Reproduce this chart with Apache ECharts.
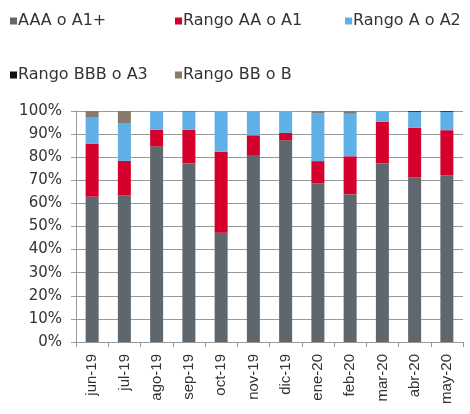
<!DOCTYPE html>
<html>
<head>
<meta charset="utf-8">
<script src="https://cdn.jsdelivr.net/npm/echarts@6/dist/echarts.min.js"></script>
<style>
  html, body { margin: 0; padding: 0; background: #fff; }
  #chart { width: 470px; height: 414px; }
</style>
</head>
<body>
<div id="chart"></div>
<script>
const categories = ['jun-19', 'jul-19', 'ago-19', 'sep-19', 'oct-19', 'nov-19', 'dic-19', 'ene-20', 'feb-20', 'mar-20', 'abr-20', 'may-20'];
const seriesNames = ['AAA o A1+', 'Rango AA o A1', 'Rango A o A2', 'Rango BBB o A3', 'Rango BB o B'];
const aaa = [62.9, 63.5, 84.7, 77.3, 47.3, 80.9, 87.3, 68.6, 64.0, 77.3, 71.2, 72.2];
const aa = [23.0, 14.9, 7.2, 14.6, 35.0, 8.6, 3.2, 9.7, 16.4, 18.0, 21.5, 19.5];
const a = [11.5, 16.4, 8.1, 7.7, 17.7, 10.5, 9.5, 20.8, 18.4, 4.7, 7.0, 8.0];
const bbb = [0, 0, 0, 0, 0, 0, 0, 0, 0, 0, 0.3, 0.3];
const bb = [2.6, 5.2, 0, 0.4, 0, 0, 0, 0.9, 1.2, 0, 0, 0];

const colors = ['#5e676e', '#d5002b', '#5fb0e6', '#111111', '#877a6c'];
const values = [aaa, aa, a, bbb, bb];

const chart = echarts.init(document.getElementById('chart'));

// one legend per item, they sit on tab stops in the original
const legendPos = [
  { left: 10, top: 13 },
  { left: 175, top: 13 },
  { left: 345, top: 13 },
  { left: 10, top: 67 },
  { left: 175, top: 67 }
];

const legends = seriesNames.map((name, i) => ({
  data: [name],
  left: legendPos[i].left,
  top: legendPos[i].top,
  padding: 0,
  itemWidth: 7,
  itemHeight: 7,
  icon: 'rect',
  selectedMode: false,
  textStyle: {
    fontFamily: 'DejaVu Sans',
    fontSize: 16,
    color: '#333',
    padding: [0, 0, 0, -4]
  }
}));

const option = {
  animation: false,
  color: colors,
  legend: legends,
  grid: {
    left: 76,
    right: 7,
    top: 111,
    bottom: 72
  },
  xAxis: {
    type: 'category',
    data: categories,
    axisLine: { lineStyle: { color: '#999', width: 1 } },
    axisTick: { show: true, length: 5, lineStyle: { color: '#999' } },
    axisLabel: {
      rotate: 90,
      margin: 12,
      fontFamily: 'Liberation Sans',
      fontSize: 15,
      color: '#333'
    }
  },
  yAxis: {
    type: 'value',
    min: 0,
    max: 100,
    interval: 10,
    axisLine: { show: true, lineStyle: { color: '#999', width: 1 } },
    axisTick: { show: true, length: 5, lineStyle: { color: '#999' } },
    splitLine: { lineStyle: { color: '#999', width: 1 } },
    axisLabel: {
      formatter: '{value}%',
      margin: 14,
      fontFamily: 'DejaVu Sans',
      fontSize: 15,
      color: '#333'
    }
  },
  series: seriesNames.map((name, i) => ({
    name: name,
    type: 'bar',
    stack: 'total',
    barWidth: 13,
    data: values[i],
    itemStyle: { color: colors[i] }
  }))
};

chart.setOption(option);
</script>
</body>
</html>
